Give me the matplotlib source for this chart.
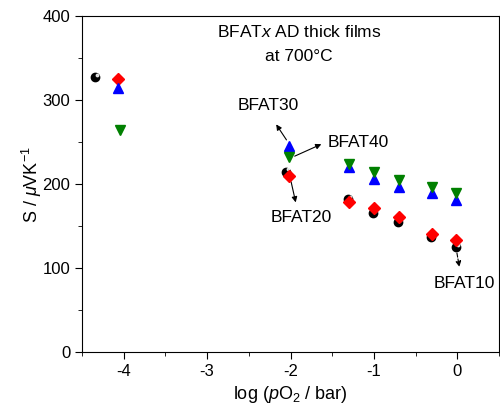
import numpy as np
import matplotlib.pyplot as plt
from matplotlib.ticker import MultipleLocator

plt.rcParams['font.family'] = ['Liberation Sans', 'DejaVu Sans']
plt.rcParams['mathtext.fontset'] = 'custom'
plt.rcParams['mathtext.rm'] = 'Liberation Sans'
plt.rcParams['mathtext.it'] = 'Liberation Sans:italic'
plt.rcParams['axes.unicode_minus'] = False

#%% données
x10 = [-4.34, -2.05, -1.31, -1.01, -0.71, -0.31, -0.01]
s10 = [328, 215, 182, 165, 155, 137, 125]
x20 = [-4.07, -2.02, -1.30, -1.00, -0.70, -0.30, -0.01]
s20 = [325, 210, 179, 171, 161, 141, 133]
x30 = [-4.07, -2.02, -1.30, -1.00, -0.70, -0.30, -0.01]
s30 = [315, 246, 221, 206, 197, 189, 181]
x40 = [-4.04, -2.02, -1.30, -1.00, -0.70, -0.30, -0.01]
s40 = [265, 232, 224, 214, 205, 196, 190]

#%% figure
fig = plt.figure(figsize=(5, 4.11), dpi=100)
ax = fig.add_axes([0.164, 0.144, 0.834, 0.816])

ax.plot(x10, s10, 'o', color='black', markersize=6, zorder=3)
ax.plot(np.array(x10) + 0.02, np.array(s10) + 2.5, 'o', color='white',
        markersize=1.8, zorder=3.1, alpha=0.8)
ax.plot(x20, s20, 'D', color='red', markersize=6, zorder=4)
ax.plot(x30, s30, '^', color='blue', markersize=7, zorder=5)
ax.plot(x40, s40, 'v', color='green', markersize=7, zorder=6)

ax.set_xlim(-4.5, 0.5)
ax.set_ylim(0, 400)
ax.xaxis.set_major_locator(MultipleLocator(1))
ax.xaxis.set_minor_locator(MultipleLocator(0.5))
ax.yaxis.set_major_locator(MultipleLocator(100))
ax.yaxis.set_minor_locator(MultipleLocator(50))
ax.tick_params(which='both', direction='out', top=False, right=False,
               labelsize=12)
ax.tick_params(which='major', length=5)
ax.tick_params(which='minor', length=3)

ax.set_xlabel(r'log ($p$O$_2$ / bar)', fontsize=13)
ax.set_ylabel(r'S / $\mathit{\mu}$VK$^{-1}$', fontsize=13, labelpad=-1)

ax.text(-1.9, 382, r'BFAT$x$ AD thick films', ha='center', va='center', fontsize=12.5)
ax.text(-1.9, 352, 'at 700°C', ha='center', va='center', fontsize=12.5)

arr = dict(arrowstyle='-|>', color='black', lw=0.8, mutation_scale=8)
# BFAT30
ax.annotate('', xy=(-2.19, 274), xytext=(-2.03, 250), arrowprops=arr)
ax.text(-2.27, 294, 'BFAT30', ha='center', va='center', fontsize=12.5)
# BFAT40
ax.annotate('', xy=(-1.6, 249), xytext=(-1.98, 232), arrowprops=arr)
ax.text(-1.56, 250, 'BFAT40', ha='left', va='center', fontsize=12.5)
# BFAT20
ax.annotate('', xy=(-1.93, 175), xytext=(-2.0, 206), arrowprops=arr)
ax.text(-1.87, 160, 'BFAT20', ha='center', va='center', fontsize=12.5)
# BFAT10
ax.annotate('', xy=(0.03, 98), xytext=(-0.01, 121),
            arrowprops=dict(arrowstyle='-|>', color='black', lw=0.8,
                            mutation_scale=8, linestyle='--'))
ax.text(0.08, 82, 'BFAT10', ha='center', va='center', fontsize=12.5)

fig.savefig('out.png', dpi=100)
